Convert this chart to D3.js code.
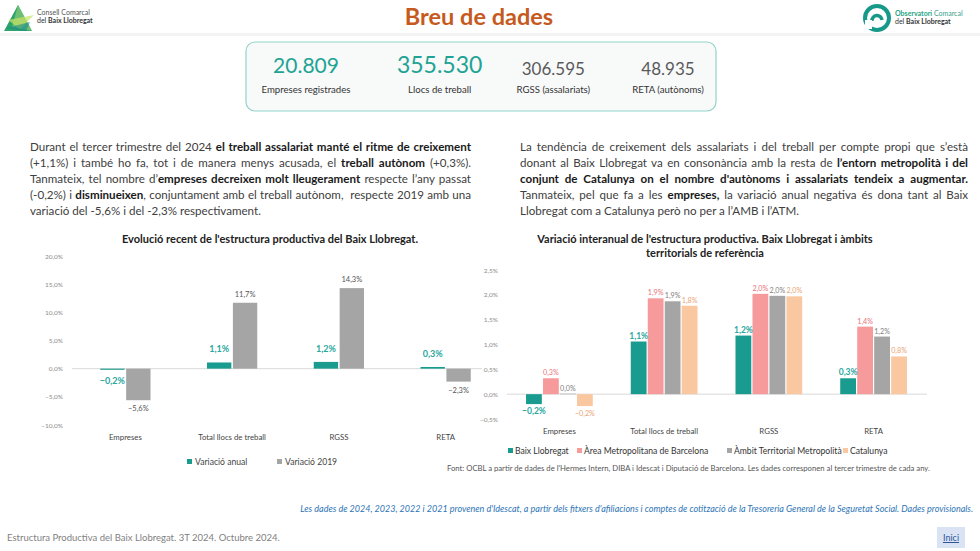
<!DOCTYPE html>
<html>
<head>
<meta charset="utf-8">
<script src="https://cdn.jsdelivr.net/npm/d3@7"></script>
<style>
  body { margin:0; background:#fff; font-family: Lato, "Open Sans", sans-serif; }
  #page { position:relative; width:980px; height:551px; overflow:hidden; }
  #page svg { position:absolute; left:0; top:0; }
  .pline { position:absolute; font-size:11.6px; line-height:16px; height:16px; color:#404040;
           text-align:justify; text-align-last:justify; white-space:nowrap; }
  .pline.last { text-align-last:left; }
  .pline b { color:#1a1a1a; }
  #inici { position:absolute; left:937px; top:527px; width:28px; height:21px; background:#dae3f3;
           font-size:9px; color:#2f5597; text-decoration:underline; text-align:center; line-height:21px; }
</style>
</head>
<body>
<div id="page">
  <svg id="main" width="980" height="551"></svg>
  <div id="inici">Inici</div>
</div>
<script>
// ---- data ----
const kpiValues = ['20.809', '355.530', '306.595', '48.935'];
const kpiLabels = ['Empreses registrades', 'Llocs de treball', 'RGSS (assalariats)', 'RETA (autònoms)'];

// paragraph lines as [text, bold] runs, one entry per printed line
const textLeft = [
  [['Durant el tercer trimestre del 2024 ', 0], ['el treball assalariat manté el ritme de creixement', 1]],
  [['(+1,1%) i també ho fa, tot i de manera menys acusada, el ', 0], ['treball autònom', 1], [' (+0,3%).', 0]],
  [['Tanmateix, tel nombre d’', 0], ['empreses decreixen molt lleugerament', 1], [' respecte l’any passat', 0]],
  [['(-0,2%) i ', 0], ['disminueixen', 1], [', conjuntament amb el treball autònom, \u00a0respecte 2019 amb una', 0]],
  [['variació del -5,6% i del -2,3% respectivament.', 0]]
];
const textRight = [
  [['La tendència de creixement dels assalariats i del treball per compte propi que s’està', 0]],
  [['donant al Baix Llobregat va en consonància amb la resta de ', 0], ['l’entorn metropolità i del', 1]],
  [['conjunt de Catalunya on el nombre d\'autònoms i assalariats tendeix a augmentar.', 1]],
  [['Tanmateix, pel que fa a les ', 0], ['empreses,', 1], [' la variació anual negativa és dona tant al Baix', 0]],
  [['Llobregat com a Catalunya però no per a l’AMB i l’ATM.', 0]]
];

const categories = ['Empreses', 'Total llocs de treball', 'RGSS', 'RETA'];

// left chart
const evoSeries = ['Variació anual', 'Variació 2019'];
const evoAnual = [-0.2, 1.1, 1.2, 0.3];
const evo2019 = [-5.6, 11.7, 14.3, -2.3];
const evoTicks = [-10, -5, 0, 5, 10, 15, 20];

// right chart
const terrSeries = ['Baix Llobregat', 'Àrea Metropolitana de Barcelona', 'Àmbit Territorial Metropolità', 'Catalunya'];
const terrBaix = [-0.2, 1.06, 1.18, 0.32];
const terrAMB = [0.32, 1.93, 2.02, 1.36];
const terrATM = [0.01, 1.87, 1.98, 1.16];
const terrCat = [-0.24, 1.78, 1.97, 0.76];
const terrTicks = [-0.5, 0, 0.5, 1, 1.5, 2, 2.5];

const TEAL = '#1a9b8f', PINK = '#f79a9c', GREY = '#a5a5a5', PEACH = '#f9c8a0';

const loc = d3.formatLocale({decimal: ',', thousands: '.', grouping: [3], currency: ['', '€']});
const f1 = loc.format('.1f');
const pct = v => f1(v) + '%';

const svg = d3.select('#main');
const page = d3.select('#page');

// ---- paragraphs ----
function drawPara(lines, left, top, width) {
  page.selectAll(null).data(lines).join('div')
    .attr('class', (d, i) => i === lines.length - 1 ? 'pline last' : 'pline')
    .style('left', left + 'px').style('top', (d, i) => (top + i * 16) + 'px').style('width', width + 'px')
    .each(function(runs){
      const el = d3.select(this);
      runs.forEach(([t, b]) => el.append(b ? 'b' : 'span').text(t));
    });
}
drawPara(textLeft, 30, 139, 441);
drawPara(textRight, 520, 139, 448);

// ---- header ----
svg.append('rect').attr('x', 0).attr('y', 33).attr('width', 980).attr('height', 3).attr('fill', '#f3f3f3');
svg.append('text').attr('x', 479).attr('y', 25).attr('text-anchor', 'middle')
  .style('font-size', '23.5px').style('font-weight', 700).attr('fill', '#c65a1e').text('Breu de dades');

// left logo
const lg = svg.append('g');
lg.append('polygon').attr('points', '18,5 4,31 32,31').attr('fill', '#2ea36b');
lg.append('polygon').attr('points', '18,5 12,27 32,31').attr('fill', '#7cc576').attr('opacity', 0.8);
lg.append('polygon').attr('points', '8,20 34,15 20,29').attr('fill', '#c9e265').attr('opacity', 0.7);
lg.append('polygon').attr('points', '6,28 30,22 26,31').attr('fill', '#1b8a8a').attr('opacity', 0.6);
lg.append('text').attr('x', 37).attr('y', 15).style('font-size', '7px').attr('fill', '#555').text('Consell Comarcal');
lg.append('text').attr('x', 37).attr('y', 23).style('font-size', '7px').attr('fill', '#333')
  .html('del <tspan font-weight="700">Baix Llobregat</tspan>');

// right logo
const rg = svg.append('g').attr('transform', 'translate(877,18)');
rg.append('circle').attr('r', 12).attr('fill', 'none').attr('stroke', '#17998a').attr('stroke-width', 4);
rg.append('path').attr('d', 'M-5,3 A5,5 0 1,1 5,2').attr('fill', 'none').attr('stroke', '#17998a').attr('stroke-width', 3.5);
rg.append('rect').attr('x', -12).attr('y', 2).attr('width', 7).attr('height', 9).attr('fill', '#fff');
svg.append('text').attr('x', 895).attr('y', 16).style('font-size', '7px').attr('fill', '#27a382')
  .html('<tspan font-weight="700">Observatori</tspan><tspan fill="#3a9f8a"> Comarcal</tspan>');
svg.append('text').attr('x', 895).attr('y', 24).style('font-size', '7px').attr('fill', '#333')
  .html('del <tspan font-weight="700">Baix Llobregat</tspan>');

// ---- KPI box ----
svg.append('rect').attr('x', 246).attr('y', 42).attr('width', 470).attr('height', 69).attr('rx', 9)
  .attr('fill', '#f8f9f9').attr('stroke', '#93d3ca').attr('stroke-width', 1.2);
const kpiX = d3.scalePoint().domain(kpiValues).range([306, 668]);
const kpiCol = ['#21a394', '#21a394', '#595959', '#595959'];
const kpiSize = [21, 23, 17, 17];
const kpiNudge = [0, 13, 6, 0];
kpiValues.forEach((v, i) => {
  svg.append('text').attr('x', kpiX(v) + kpiNudge[i]).attr('y', i < 2 ? 73 : 75)
    .attr('text-anchor', 'middle').style('font-size', kpiSize[i] + 'px').attr('fill', kpiCol[i]).text(v);
  svg.append('text').attr('x', kpiX(v) + kpiNudge[i]).attr('y', 93)
    .attr('text-anchor', 'middle').style('font-size', '9.6px').attr('fill', '#333').text(kpiLabels[i]);
});

// ---- left chart ----
(function(){
  const x0 = d3.scaleBand().domain(categories).range([72, 499]).paddingInner(0.5).paddingOuter(0.25);
  const x1 = d3.scaleBand().domain(evoSeries).range([0, x0.bandwidth()]).padding(0.06);
  const y = d3.scaleLinear().domain([-10, 20]).range([425, 256]);
  const g = svg.append('g');

  g.append('text').attr('x', 270).attr('y', 243).attr('text-anchor', 'middle')
    .style('font-size', '11px').style('font-weight', 700).attr('fill', '#222')
    .text("Evolució recent de l'estructura productiva del Baix Llobregat.");

  const ax = g.append('g').attr('transform', 'translate(66,0)')
    .call(d3.axisLeft(y).tickValues(evoTicks).tickSize(0).tickFormat(d => pct(d)));
  ax.select('.domain').remove();
  ax.selectAll('text').attr('fill', '#8c8c8c').style('font-size', '6.5px').style('font-family', 'Lato');

  g.append('line').attr('x1', 72).attr('x2', 482).attr('y1', y(0)).attr('y2', y(0))
    .attr('stroke', '#d9d9d9').attr('stroke-width', 1);

  const rows = categories.map((c, i) => ({cat: c, vals: [evoAnual[i], evo2019[i]]}));
  const cols = [TEAL, GREY];
  const grp = g.selectAll('.grp').data(rows).join('g').attr('transform', d => `translate(${x0(d.cat)},0)`);
  grp.selectAll('rect').data(d => d.vals.map((v, j) => ({s: evoSeries[j], v, j}))).join('rect')
    .attr('x', d => x1(d.s)).attr('width', x1.bandwidth())
    .attr('y', d => y(Math.max(0, d.v))).attr('height', d => Math.abs(y(d.v) - y(0)))
    .attr('fill', d => cols[d.j]);
  grp.selectAll('text.lbl').data(d => d.vals.map((v, j) => ({s: evoSeries[j], v, j}))).join('text')
    .attr('class', 'lbl').attr('text-anchor', 'middle')
    .attr('x', d => x1(d.s) + x1.bandwidth() / 2)
    .attr('y', d => d.v >= 0 ? y(d.v) - (d.j === 0 ? 10 : 6) : y(d.v) + (d.j === 0 ? 14 : 11))
    .style('font-size', d => d.j === 0 ? '9px' : '7.5px').style('font-weight', d => d.j === 0 ? 700 : 400)
    .attr('fill', d => d.j === 0 ? '#2aa7a0' : '#555')
    .text(d => pct(d.v));

  g.selectAll('.cat').data(categories).join('text').attr('class', 'cat').attr('text-anchor', 'middle')
    .attr('x', d => x0(d) + x0.bandwidth() / 2).attr('y', 440)
    .style('font-size', '7.8px').attr('fill', '#444').text(d => d);

  const legX = [187, 277];
  const leg = g.selectAll('.leg').data(evoSeries).join('g').attr('class', 'leg')
    .attr('transform', (d, i) => `translate(${legX[i]},465)`);
  leg.append('rect').attr('x', 0).attr('y', -6).attr('width', 5).attr('height', 5).attr('fill', (d, i) => cols[i]);
  leg.append('text').attr('x', 8).attr('y', 0).style('font-size', '8.6px').attr('fill', '#444').text(d => d);
})();

// ---- right chart ----
(function(){
  const x0 = d3.scaleBand().domain(categories).range([506, 927]).paddingInner(0.34).paddingOuter(0.18);
  const x1 = d3.scaleBand().domain(terrSeries).range([0, x0.bandwidth()]).padding(0.07);
  const y = d3.scaleLinear().domain([-0.5, 2.5]).range([419, 270]);
  const g = svg.append('g');

  g.append('text').attr('x', 705).attr('y', 243).attr('text-anchor', 'middle')
    .style('font-size', '11px').style('font-weight', 700).attr('fill', '#222')
    .text("Variació interanual de l'estructura productiva. Baix Llobregat i àmbits");
  g.append('text').attr('x', 705).attr('y', 257).attr('text-anchor', 'middle')
    .style('font-size', '11px').style('font-weight', 700).attr('fill', '#222')
    .text('territorials de referència');

  const ax = g.append('g').attr('transform', 'translate(501,0)')
    .call(d3.axisLeft(y).tickValues(terrTicks).tickSize(0).tickFormat(d => pct(d)));
  ax.select('.domain').remove();
  ax.selectAll('text').attr('fill', '#8c8c8c').style('font-size', '6.5px').style('font-family', 'Lato');

  g.append('line').attr('x1', 507).attr('x2', 927).attr('y1', y(0)).attr('y2', y(0))
    .attr('stroke', '#d9d9d9').attr('stroke-width', 1);

  const series = [terrBaix, terrAMB, terrATM, terrCat];
  const cols = [TEAL, PINK, GREY, PEACH];
  const lblCols = ['#2aa7a0', '#e8737a', '#7f7f7f', '#eaa374'];
  const rows = categories.map((c, i) => ({cat: c, vals: series.map(s => s[i])}));
  const grp = g.selectAll('.grp').data(rows).join('g').attr('transform', d => `translate(${x0(d.cat)},0)`);
  const items = d => d.vals.map((v, j) => ({s: terrSeries[j], v, j}));
  grp.selectAll('rect').data(items).join('rect')
    .attr('x', d => x1(d.s)).attr('width', x1.bandwidth())
    .attr('y', d => y(Math.max(0, d.v))).attr('height', d => Math.abs(y(d.v) - y(0)))
    .attr('fill', d => cols[d.j]);
  grp.selectAll('text.lbl').data(items).join('text')
    .attr('class', 'lbl').attr('text-anchor', 'middle')
    .attr('x', d => x1(d.s) + x1.bandwidth() / 2)
    .attr('y', d => d.v >= 0 ? y(d.v) - 3 : y(d.v) + 10)
    .style('font-size', d => d.j === 0 ? '8.5px' : '7.2px').style('font-weight', d => d.j === 0 ? 700 : 400)
    .attr('fill', d => lblCols[d.j])
    .text(d => pct(d.v));

  g.selectAll('.cat').data(categories).join('text').attr('class', 'cat').attr('text-anchor', 'middle')
    .attr('x', d => x0(d) + x0.bandwidth() / 2).attr('y', 434)
    .style('font-size', '7.8px').attr('fill', '#444').text(d => d);

  const legX = [508, 577, 727, 843];
  const leg = g.selectAll('.leg').data(terrSeries).join('g').attr('class', 'leg')
    .attr('transform', (d, i) => `translate(${legX[i]},454)`);
  leg.append('rect').attr('x', 0).attr('y', -6).attr('width', 5).attr('height', 5).attr('fill', (d, i) => cols[i]);
  leg.append('text').attr('x', 7).attr('y', 0).style('font-size', '8.6px').attr('fill', '#333').text(d => d);

  g.append('text').attr('x', 447).attr('y', 471).style('font-size', '7.7px').attr('fill', '#555')
    .text("Font: OCBL a partir de dades de l'Hermes Intern, DIBA i Idescat i Diputació de Barcelona. Les dades corresponen al tercer trimestre de cada any.");
})();

// ---- footer ----
svg.append('text').attr('x', 973).attr('y', 512).attr('text-anchor', 'end')
  .style('font-size', '9px').style('font-style', 'italic').attr('fill', '#2e75b6')
  .text("Les dades de 2024, 2023, 2022 i 2021 provenen d'Idescat, a partir dels fitxers d'afiliacions i comptes de cotització de la Tresoreria General de la Seguretat Social. Dades provisionals.");
svg.append('text').attr('x', 7).attr('y', 541).style('font-size', '9.5px').attr('fill', '#7f7f7f')
  .text('Estructura Productiva del Baix Llobregat. 3T 2024. Octubre 2024.');
</script>
</body>
</html>
